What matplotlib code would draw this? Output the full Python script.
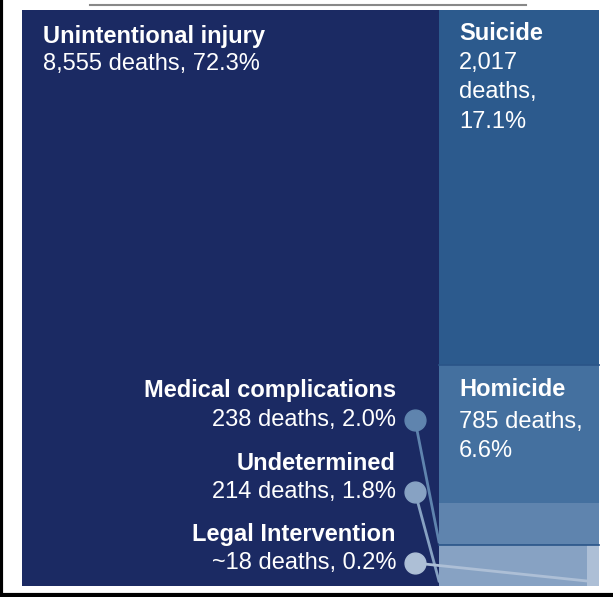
import matplotlib.pyplot as plt
from matplotlib.patches import Rectangle

plt.rcParams['font.family'] = ['Liberation Sans', 'DejaVu Sans']

# deaths by cause
causes = ['Unintentional injury', 'Suicide', 'Homicide', 'Medical complications',
          'Undetermined', 'Legal Intervention']
deaths = [8555, 2017, 785, 238, 214, 18]
pct_labels = ['8,555 deaths, 72.3%', '2,017\ndeaths,\n17.1%', '785 deaths,\n6.6%',
              '238 deaths, 2.0%', '214 deaths, 1.8%', '~18 deaths, 0.2%']
colors = ['#1b2a63', '#2c5a8d', '#44709f', '#5f84ae', '#87a2c3', '#adbfd6']

fig = plt.figure(figsize=(6.13, 5.97), dpi=100)
ax = fig.add_axes([0, 0, 1, 1])
ax.set_xlim(0, 613)
ax.set_ylim(597, 0)
ax.axis('off')

# treemap area in pixels
x0, y0, x1, y1 = 22, 10, 599, 586
W, H = x1 - x0, y1 - y0
total = sum(deaths)

# first column: unintentional injury
w_main = W * deaths[0] / total
rects = [(x0, y0, w_main, H)]
rest = total - deaths[0]
cx = x0 + w_main
cw = x1 - cx
y = y0
# stacked: suicide, homicide, medical complications
for d in deaths[1:4]:
    h = H * d / rest
    rects.append((cx, y, cw, h))
    y += h
# last row: undetermined + legal intervention side by side
h_last = y1 - y
row_sum = deaths[4] + deaths[5]
w_und = cw * deaths[4] / row_sum
rects.append((cx, y, w_und, h_last))
rects.append((cx + w_und, y, cw - w_und, h_last))

for (rx, ry, rw, rh), c in zip(rects, colors):
    ax.add_patch(Rectangle((rx, ry), rw, rh, facecolor=c, edgecolor='none'))
# thin separators
ax.plot([cx, x1], [rects[2][1], rects[2][1]], color='#2a5488', lw=1.2)
ax.plot([cx, x1], [rects[4][1], rects[4][1]], color='#2a5488', lw=1.2)

fs = 17
lsp = 1.44
# labels inside boxes
ax.text(43, 36, causes[0], color='white', fontsize=fs, fontweight='bold', va='center')
ax.text(43, 64, pct_labels[0], color='white', fontsize=fs, va='center')
ax.text(459, 34, causes[1], color='white', fontsize=fs, fontweight='bold', va='center')
ax.text(459, 52, pct_labels[1], color='white', fontsize=fs, va='top', linespacing=lsp)
ax.text(459, 390, causes[2], color='white', fontsize=fs, fontweight='bold', va='center')
ax.text(459, 411, pct_labels[2], color='white', fontsize=fs, va='top', linespacing=lsp)

# callouts for the small boxes
dot_y = [420, 492, 563]
targets = [(439, 542), (439, 581), (587, 581)]
dot_cols = ['#5f84ae', '#87a2c3', '#adbfd6']
for i in range(3):
    k = i + 3
    ax.text(396, dot_y[i] - 29, causes[k], color='white', fontsize=fs,
            fontweight='bold', va='center', ha='right')
    ax.text(396, dot_y[i], pct_labels[k], color='white', fontsize=fs,
            va='center', ha='right')
    ax.plot([415, targets[i][0]], [dot_y[i], targets[i][1]], color=dot_cols[i],
            lw=2, zorder=4)
    ax.plot(415, dot_y[i], 'o', color=dot_cols[i], ms=15, zorder=5)

# frame remnants
ax.plot([90, 526], [5, 5], color='#888888', lw=1.5)
ax.plot([1, 1], [0, 595], color='black', lw=3)
ax.plot([0, 613], [595, 595], color='black', lw=3)

fig.savefig('out.png', dpi=100)
